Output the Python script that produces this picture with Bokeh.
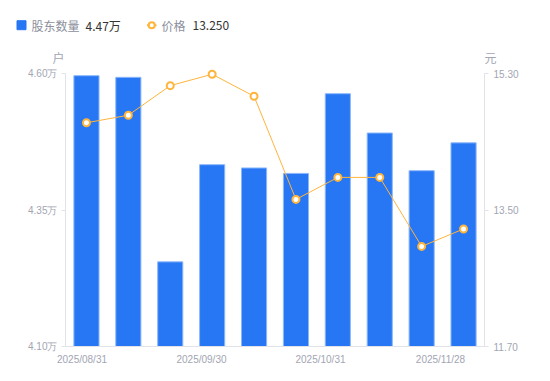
from bokeh.plotting import figure
from bokeh.layouts import column
from bokeh.models import Range1d, LinearAxis, FixedTicker, CustomJSTickFormatter, ColumnDataSource
from bokeh.core.properties import value
from bokeh.embed import file_html
from bokeh.resources import INLINE

dates = ["2025/08/31", "2025/09/10", "2025/09/19", "2025/09/30", "2025/10/10",
         "2025/10/20", "2025/10/31", "2025/11/10", "2025/11/20", "2025/11/28"]
holders = [4.596, 4.593, 4.255, 4.433, 4.427, 4.417, 4.563, 4.491, 4.422, 4.473]  # 万户
price = [14.65, 14.75, 15.14, 15.29, 15.00, 13.64, 13.93, 13.93, 13.02, 13.25]  # 元
left_ticks = [4.10, 4.35, 4.60]
right_ticks = [11.70, 13.50, 15.30]
label_idx = [0, 3, 6, 9]

BLUE = "#2777F4"
ORANGE = "#FFB43C"
GREY = "#A2A5B2"
AXIS = "#E2E3E8"
FONT = "Liberation Sans"
CJK = "Noto Sans CJK SC"

W, H = 550, 381
HH = 66
PLOT_H = 273      # pixel height between lowest and highest tick
PAD = 6           # extra pixels above top tick so markers are not clipped

# ---------- header (legend + unit labels), page-pixel coordinates ----------
h = figure(width=W, height=HH, x_range=Range1d(0, W), y_range=Range1d(HH, 0),
           output_backend="svg", toolbar_location=None, x_axis_type=None, y_axis_type=None,
           min_border=0, outline_line_color=None)
h.frame_align = False
h.grid.visible = False
CY = 24.7
def htext(x, y, s, color, align="left"):
    h.text([x], [y], text=[s], text_font=value(CJK), text_font_size="12px",
           text_color=color, text_baseline="middle", text_align=align)

h.scatter([21], [CY], marker="square", size=9, fill_color=BLUE, line_color=BLUE)
htext(31, CY, "股东数量", "#8C8F9C")
htext(85, CY, f"{holders[-1]:.2f}万", "#333333")
h.line([146.5, 156], [CY, CY], line_color=ORANGE, line_width=2)
h.scatter([151.2], [CY], marker="circle", size=6, fill_color="white", line_color=ORANGE, line_width=2)
htext(161, CY, "价格", "#8C8F9C")
htext(192, CY, f"{price[-1]:.3f}", "#333333")
htext(58, 57, "户", GREY, "center")
htext(490, 57, "元", GREY, "center")

# ---------- main chart ----------
n = len(dates)
xs = [i + 0.5 for i in range(n)]
src = ColumnDataSource(dict(x=xs, holders=holders, price=price))

lpad = (left_ticks[-1] - left_ticks[0]) / PLOT_H * PAD
rpad = (right_ticks[-1] - right_ticks[0]) / PLOT_H * PAD

p = figure(width=W, height=H - HH, x_range=Range1d(0, n),
           y_range=Range1d(left_ticks[0], left_ticks[-1] + lpad),
           output_backend="svg", toolbar_location=None, x_axis_type=None, y_axis_type=None,
           min_border_left=65, min_border_right=66, min_border_top=7 - PAD, min_border_bottom=35,
           outline_line_color=None)
p.frame_align = False
p.grid.visible = False
p.extra_y_ranges = {"price": Range1d(right_ticks[0], right_ticks[-1] + rpad)}

p.vbar(x="x", top="holders", bottom=left_ticks[0], width=0.6, source=src,
       fill_color=BLUE, line_color="#8CB8FA", line_width=1)
p.line(x="x", y="price", source=src, y_range_name="price", line_color=ORANGE, line_width=1)
p.scatter(x="x", y="price", source=src, y_range_name="price", marker="circle", size=7,
          fill_color="white", line_color=ORANGE, line_width=2)

def style(ax):
    ax.axis_line_color = AXIS
    ax.major_tick_line_color = AXIS
    ax.minor_tick_line_color = None
    ax.major_tick_out = 4
    ax.major_tick_in = 0
    ax.major_label_text_color = GREY
    ax.major_label_text_font = FONT
    ax.major_label_text_font_size = "10px"

ly = LinearAxis(ticker=FixedTicker(ticks=left_ticks), bounds=(left_ticks[0], left_ticks[-1]),
                formatter=CustomJSTickFormatter(code="return tick.toFixed(2) + '万';"))
style(ly)
ly.major_label_standoff = 4
p.add_layout(ly, "left")

ry = LinearAxis(y_range_name="price", ticker=FixedTicker(ticks=right_ticks),
                bounds=(right_ticks[0], right_ticks[-1]),
                formatter=CustomJSTickFormatter(code="return tick.toFixed(2);"))
style(ry)
ry.major_label_standoff = 5
p.add_layout(ry, "right")

tick_pos = [0.394, 3.246, 6.086, 8.95]
tick_lab = [dates[i] for i in label_idx]
xa = LinearAxis(ticker=FixedTicker(ticks=tick_pos),
                formatter=CustomJSTickFormatter(args=dict(pos=tick_pos, lab=tick_lab), code="""
let b = 0;
for (let i = 0; i < pos.length; i++) { if (Math.abs(pos[i] - tick) < Math.abs(pos[b] - tick)) b = i; }
return lab[b];"""))
style(xa)
xa.major_tick_line_color = None
xa.major_label_standoff = 3
p.add_layout(xa, "below")

layout = column(h, p, spacing=0)
open("out.html", "w").write(file_html(layout, INLINE))
